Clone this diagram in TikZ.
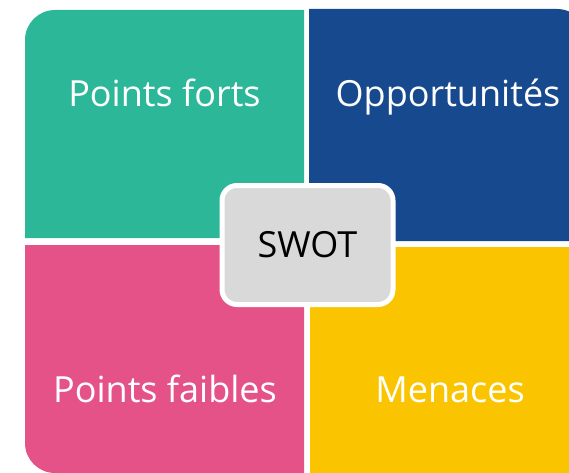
\documentclass[tikz,border=0pt]{standalone}
\usepackage{fontspec}
\setmainfont{Open Sans}
\usepackage{xcolor}
\definecolor{swotTeal}{HTML}{2DB799}
\definecolor{swotBlue}{HTML}{17498F}
\definecolor{swotPink}{HTML}{E45287}
\definecolor{swotYellow}{HTML}{FAC500}
\definecolor{swotGrey}{HTML}{D9D9D9}

\begin{document}
\begin{tikzpicture}[x=1pt,y=1pt, quad label/.style={anchor=base,text=white,inner sep=0pt,font=\fontsize{36}{44}\selectfont}, center node/.style={rectangle,rounded corners=15pt,fill=swotGrey,draw=white,line width=5pt,minimum width=171pt,minimum height=119pt,inner sep=0pt,font=\fontsize{36}{44}\selectfont}]

            \useasboundingbox (0,0) rectangle (569,472);
            \clip (0,0) rectangle (569,472);

            % quadrants
            \fill[swotTeal] (304,234) -- (25,234) -- (25,432) arc[start angle=180, end angle=90, radius=30] -- (304,462) -- cycle;
            \fill[swotBlue] (309,231) -- (309,463) -- (557,463) arc[start angle=90, end angle=0, radius=30] -- (587,231) -- cycle;
            \fill[swotPink] (304,227) -- (25,227) -- (25,29) arc[start angle=180, end angle=270, radius=30] -- (304,-1) -- cycle;
            \fill[swotYellow] (310,-6) rectangle (590,225);

            \node[quad label] (forts) at (164.5,365) {Points forts};
            \node[quad label] (opport) at (448,365) {Opportunités};
            \node[quad label] (faibles) at (165,70) {Points faibles};
            \node[quad label] (menaces) at (450,70) {Menaces};

            \node[center node] (swot) at (307.5,227) {SWOT};
        \end{tikzpicture}
\end{document}
